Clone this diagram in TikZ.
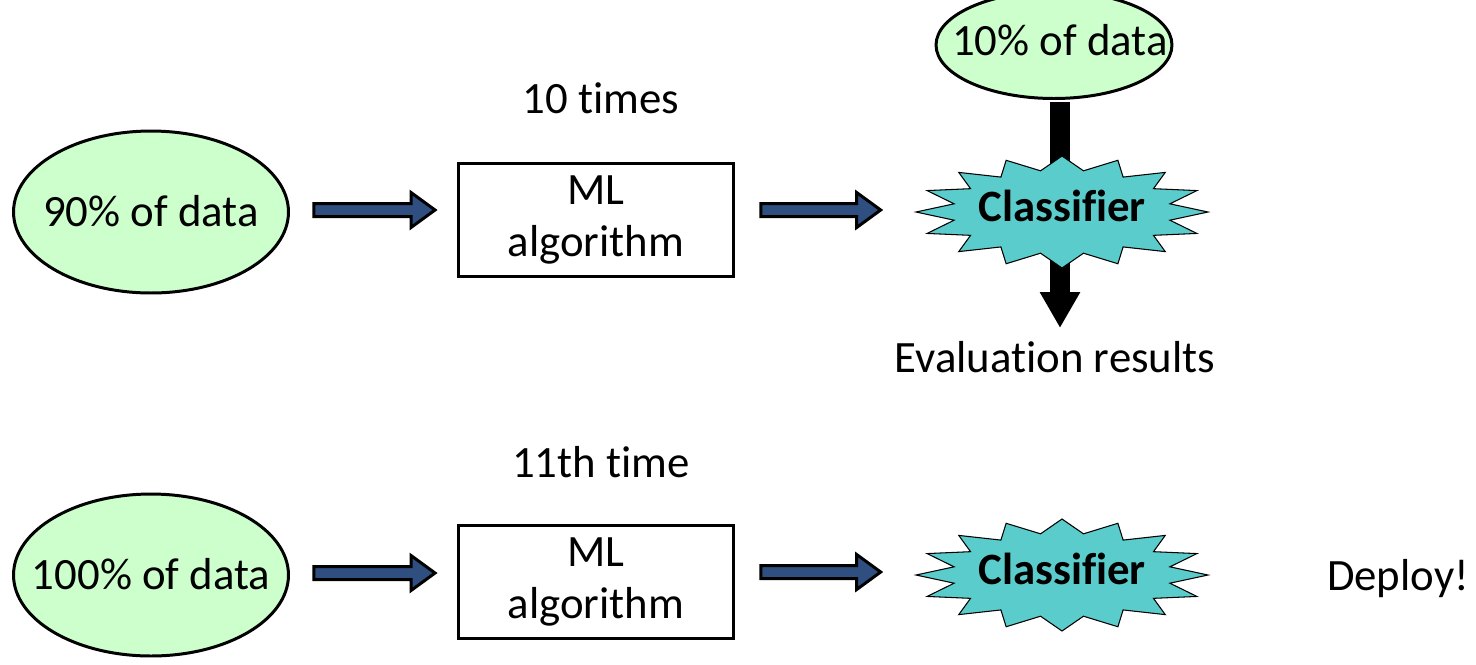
\documentclass[tikz,border=0pt]{standalone}
\usepackage{fontspec}
\setmainfont{Carlito}[Ligatures=NoCommon]
\usetikzlibrary{calc,arrows.meta,shapes.geometric}
\definecolor{datagreen}{RGB}{204,255,204}
\definecolor{starcyan}{RGB}{90,204,204}
\definecolor{arrowblue}{RGB}{47,79,128}
\tikzset{
  txt/.style={font=\fontsize{25.5}{29.5}\selectfont, inner sep=0pt},
  dataell/.style={txt, ellipse, draw=black, line width=1.7pt, fill=datagreen,
    minimum width=5.5cm, minimum height=3.24cm, text height=17.85pt, text depth=0.8pt},
  smallell/.style={txt, ellipse, draw=black, line width=1.7pt, fill=datagreen,
    minimum width=4.72cm, minimum height=2.14cm, text height=17.85pt, text depth=6.4pt},
  mlbox/.style={txt, rectangle, draw=black, line width=1.7pt, fill=white,
    minimum width=5.5cm, minimum height=2.26cm, align=center},
  starnode/.style={txt, font=\fontsize{25.5}{29.5}\selectfont\bfseries,
    minimum width=5.84cm, minimum height=2.24cm, text height=16.4pt, text depth=5.1pt},
  burst/.style={draw=black, line width=0.6pt, fill=starcyan},
  barrowstyle/.style={draw=black, line width=1.7pt, fill=arrowblue},
  blackarrow/.style={line width=0.4cm, -{Triangle[width=0.76cm,length=0.72cm]}},
  plain/.style={txt}
}
\newcommand\myburst[1]{%
  \filldraw[burst, shift={(#1)}] plot[samples at={0,...,31}, variable=\k]
    ({(146-36*mod(\k,2))*cos(\k*11.25)},{(56-14*mod(\k,2))*sin(\k*11.25)}) -- cycle;}
\newcommand\barrow[2]{%
  \coordinate (bae) at (#2 |- #1);
  \filldraw[barrowstyle] ($(#1)+(0,-6.5)$) -- ($(bae)+(-24,-6.5)$) -- ($(bae)+(-24,-17.5)$)
    -- (bae) -- ($(bae)+(-24,17.5)$) -- ($(bae)+(-24,6.5)$) -- ($(#1)+(0,6.5)$) -- cycle;}
\begin{document}
\begin{tikzpicture}[x=0.02cm, y=-0.02cm]
\useasboundingbox (0,0) rectangle (1476,664);

% ---------- top row ----------
\node[plain, anchor=base] (t10) at (601,113) {10 times};
\node[dataell] (e90) at (151,212) {\makebox[0pt]{90\% of data}};
\node[mlbox] (ml1) at (596,220) {ML\\algorithm};
\node[starnode] (cls1) at (1062,212) {};
\node[smallell] (e10) at (1054,45) {\makebox[0pt]{\hspace*{0.24cm}10\% of data}};
\node[plain, anchor=base] (eval) at (1055,372) {Evaluation results};
\coordinate (evtip) at (1060,328);

\draw[blackarrow] ($(e10.south)+(6,2)$) -- (evtip);
\myburst{cls1.center}
\node[starnode] (cls1t) at (cls1.center) {Classifier};

\coordinate (a1s) at ($(e90.east)+(24,-2)$);
\coordinate (a1e) at ($(ml1.west)+(-22,0)$);
\barrow{a1s}{a1e}
\coordinate (a2s) at ($(ml1.east)+(26,-10)$);
\coordinate (a2e) at ($(cls1.west)+(-35,0)$);
\barrow{a2s}{a2e}

% ---------- bottom row ----------
\node[plain, anchor=base] (t11) at (601,477) {11th time};
\node[dataell] (e100) at (151,575) {\makebox[0pt]{100\% of data}};
\node[mlbox] (ml2) at (596,582) {ML\\algorithm};
\node[starnode] (cls2) at (1062,575) {};
\myburst{cls2.center}
\node[starnode] (cls2t) at (cls2.center) {Classifier};
\node[plain, anchor=base] (deploy) at (1398,590) {Deploy!};

\coordinate (b1s) at ($(e100.east)+(24,-2)$);
\coordinate (b1e) at ($(ml2.west)+(-22,0)$);
\barrow{b1s}{b1e}
\coordinate (b2s) at ($(ml2.east)+(26,-10)$);
\coordinate (b2e) at ($(cls2.west)+(-35,0)$);
\barrow{b2s}{b2e}
\end{tikzpicture}
\end{document}
